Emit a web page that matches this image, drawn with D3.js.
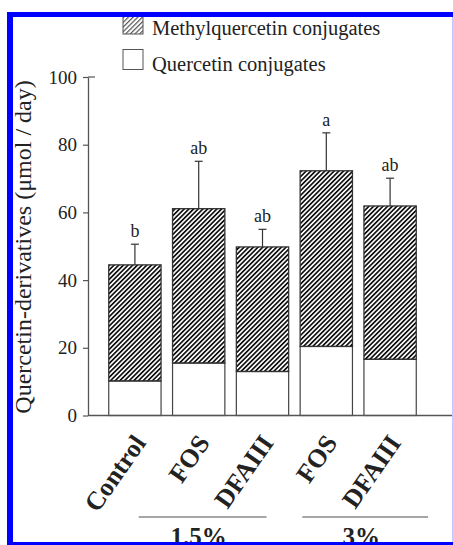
<!DOCTYPE html>
<html>
<head>
<meta charset="utf-8">
<script src="https://cdn.jsdelivr.net/npm/d3@7"></script>
<style>
  body { margin: 0; background: #fff; }
  svg { display: block; }
  text { font-family: "Liberation Serif", "Times New Roman", serif; fill: #222; }
</style>
</head>
<body>
<div id="chart"></div>
<script>
// treatments, in plotting order
var treatments = ["Control", "FOS", "DFAIII", "FOS", "DFAIII"]
// umol / day
var quercetin = [10.2, 15.5, 13.0, 20.4, 16.6]
var methylquercetin = [34.3, 45.6, 36.8, 51.9, 45.3]
var errors = [6.1, 14.0, 5.2, 11.2, 8.2]
var letters = ["b", "ab", "ab", "a", "ab"]
var yTicks = [0, 20, 40, 60, 80, 100]
var doses = [
    {label: "1.5%", first: 1, last: 2},
    {label: "3%", first: 3, last: 4}
]
var legendItems = ["Methylquercetin conjugates", "Quercetin conjugates"]

var width = 453, height = 545

var svg = d3.select("#chart").append("svg")
    .attr("width", width)
    .attr("height", height)

var defs = svg.append("defs")

function make_hatch(id, size, stroke, sw) {
    defs.append("pattern")
        .attr("id", id)
        .attr("patternUnits", "userSpaceOnUse")
        .attr("width", size)
        .attr("height", size)
        .attr("patternTransform", "rotate(45)")
        .append("rect")
        .attr("x", 0).attr("y", 0)
        .attr("width", sw).attr("height", size)
        .attr("fill", stroke)
}
make_hatch("hatch", 3.3, "#111", 1.7)
make_hatch("hatch-legend", 3.3, "#555", 1.2)

var x = d3.scaleBand()
    .domain(d3.range(treatments.length))
    .range([103, 422])
    .paddingInner(0.18)
    .paddingOuter(0.09)

var y = d3.scaleLinear()
    .domain([0, 100])
    .range([415.5, 77])

var bars = treatments.map(function(t, i) {
    return {
        i: i,
        name: t,
        q: quercetin[i],
        m: methylquercetin[i],
        total: quercetin[i] + methylquercetin[i],
        err: errors[i],
        letter: letters[i]
    }
})

// y axis
var yAxis = svg.append("g")
    .attr("transform", "translate(88,0)")
    .call(d3.axisLeft(y).tickValues(yTicks).tickSize(5).tickSizeOuter(0).tickPadding(6))
yAxis.select(".domain").attr("stroke", "#555").attr("stroke-width", 1.3)
yAxis.selectAll(".tick line").attr("stroke", "#555").attr("stroke-width", 1.2)
yAxis.selectAll(".tick text")
    .style("font-family", "Liberation Serif, serif")
    .style("font-size", "19px")
    .attr("fill", "#222")
yAxis.append("line")
    .attr("x1", 0).attr("x2", 7)
    .attr("y1", y(100)).attr("y2", y(100))
    .attr("stroke", "#555").attr("stroke-width", 1.2)

// bars
var barG = svg.append("g")

barG.selectAll("rect.q")
    .data(bars)
    .enter().append("rect")
    .attr("class", "q")
    .attr("x", function(d) { return x(d.i) })
    .attr("width", x.bandwidth())
    .attr("y", function(d) { return y(d.q) })
    .attr("height", function(d) { return y(0) - y(d.q) })
    .attr("fill", "#fff")
    .attr("stroke", "#444")
    .attr("stroke-width", 1.2)

barG.selectAll("rect.m")
    .data(bars)
    .enter().append("rect")
    .attr("class", "m")
    .attr("x", function(d) { return x(d.i) })
    .attr("width", x.bandwidth())
    .attr("y", function(d) { return y(d.total) })
    .attr("height", function(d) { return y(d.q) - y(d.total) })
    .attr("fill", "url(#hatch)")
    .attr("stroke", "#333")
    .attr("stroke-width", 1.3)

// x axis line
svg.append("line")
    .attr("x1", 88).attr("x2", width)
    .attr("y1", y(0)).attr("y2", y(0))
    .attr("stroke", "#555")
    .attr("stroke-width", 1.4)

// error bars
var errG = svg.append("g").attr("stroke", "#333").attr("stroke-width", 1.2)
errG.selectAll("line.v")
    .data(bars)
    .enter().append("line")
    .attr("x1", function(d) { return x(d.i) + x.bandwidth() / 2 })
    .attr("x2", function(d) { return x(d.i) + x.bandwidth() / 2 })
    .attr("y1", function(d) { return y(d.total) })
    .attr("y2", function(d) { return y(d.total + d.err) })
errG.selectAll("line.cap")
    .data(bars)
    .enter().append("line")
    .attr("x1", function(d) { return x(d.i) + x.bandwidth() / 2 - 4 })
    .attr("x2", function(d) { return x(d.i) + x.bandwidth() / 2 + 4 })
    .attr("y1", function(d) { return y(d.total + d.err) })
    .attr("y2", function(d) { return y(d.total + d.err) })

svg.selectAll("text.letter")
    .data(bars)
    .enter().append("text")
    .attr("class", "letter")
    .attr("x", function(d) { return x(d.i) + x.bandwidth() / 2 })
    .attr("y", function(d) { return y(d.total + d.err) - 7 })
    .attr("text-anchor", "middle")
    .style("font-size", "18px")
    .text(function(d) { return d.letter })

// category labels, rotated
svg.selectAll("text.cat")
    .data(bars)
    .enter().append("text")
    .attr("class", "cat")
    .attr("text-anchor", "end")
    .attr("transform", function(d) {
        return "translate(" + (x(d.i) + x.bandwidth() / 2 + 12) + ",443) rotate(-55)"
    })
    .style("font-size", "26px")
    .style("font-weight", "bold")
    .attr("fill", "#111")
    .text(function(d) { return d.name })

// dose groups
var dosePad = [[-60, 4], [-24, 38]]
doses.forEach(function(g, k) {
    var c0 = x(g.first) + x.bandwidth() / 2
    var c1 = x(g.last) + x.bandwidth() / 2
    var x0 = c0 + dosePad[k][0], x1 = c1 + dosePad[k][1]
    svg.append("line")
        .attr("x1", x0).attr("x2", x1)
        .attr("y1", 517).attr("y2", 517)
        .attr("stroke", "#888")
        .attr("stroke-width", 1.4)
    svg.append("text")
        .attr("x", (x0 + x1) / 2 - 4)
        .attr("y", 545)
        .attr("text-anchor", "middle")
        .style("font-size", "25px")
        .style("font-weight", "bold")
        .attr("fill", "#111")
        .text(g.label)
})

// y label
svg.append("text")
    .attr("transform", "translate(31,247) rotate(-90)")
    .attr("text-anchor", "middle")
    .style("font-size", "24px")
    .text("Quercetin-derivatives (\u03bcmol / day)")

// legend
var legend = svg.append("g")
legendItems.forEach(function(label, k) {
    var ly = 14 + k * 35.5
    legend.append("rect")
        .attr("x", 123).attr("y", ly)
        .attr("width", 20).attr("height", 20)
        .attr("fill", k == 0 ? "url(#hatch-legend)" : "#fff")
        .attr("stroke", "#555")
        .attr("stroke-width", 1)
    legend.append("text")
        .attr("x", 152)
        .attr("y", ly + 21)
        .style("font-size", "20.5px")
        .text(label)
})

// blue frame
svg.append("rect").attr("x", 7).attr("y", 12).attr("width", 6).attr("height", height - 12).attr("fill", "#0000ff")
svg.append("rect").attr("x", 7).attr("y", 12).attr("width", width - 7).attr("height", 5).attr("fill", "#0000ff")
svg.append("rect").attr("x", 7).attr("y", 542).attr("width", width - 7).attr("height", 3).attr("fill", "#0000ff")
svg.append("line").attr("x1", 452.5).attr("x2", 452.5).attr("y1", 17).attr("y2", 542)
    .attr("stroke", "#c8c8ff").attr("stroke-width", 1)
</script>
</body>
</html>
